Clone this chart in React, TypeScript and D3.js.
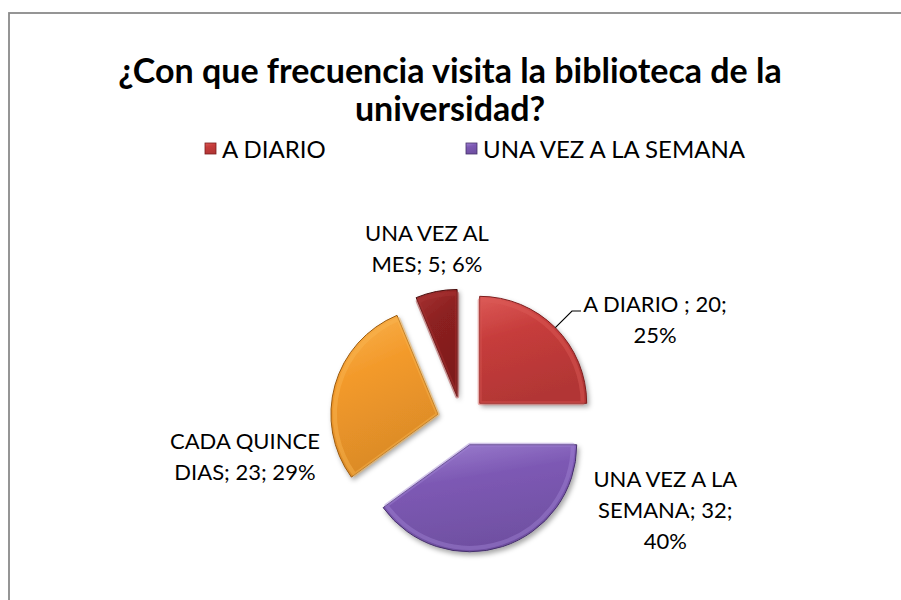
import * as d3 from "d3";
import { useEffect, useRef } from "react";

const width = 901,
  height = 600;

// data
const categories = ["A DIARIO ", "UNA VEZ A LA SEMANA", "CADA QUINCE DIAS", "UNA VEZ AL MES"];
const values = [20, 32, 23, 5];
const legendItems = ["A DIARIO", "UNA VEZ A LA SEMANA"];
const titleLines = ["¿Con que frecuencia visita la biblioteca de la", "universidad?"];

// styles / layout
const colors = [
  { base: "#c63c3b", light: "#dc5a57", dark: "#7c1c1c" },
  { base: "#7d59b4", light: "#a083d2", dark: "#45306a" },
  { base: "#f39a2b", light: "#f9b552", dark: "#9a5a10" },
  { base: "#8c2020", light: "#a83434", dark: "#4a0e0e" },
];
const cx = 462,
  cy = 421,
  radius = 107,
  explode = 25;
// label block placement: angle (deg, clockwise from top) and distance from pie centre
const labelPlace = [
  { angle: 62.3, dist: 218 },
  { angle: 113.7, dist: 222 },
  { angle: 260.6, dist: 220 },
  { angle: 348.5, dist: 176 },
];
const labelFont = 22,
  labelLineH = 31;

function wrap(text: string, max: number) {
  const words = text.split(" ");
  const lines: string[] = [];
  let cur = "";
  for (const w of words) {
    const next = cur ? cur + " " + w : w;
    if (next.length > max && cur) {
      lines.push(cur);
      cur = w;
    } else cur = next;
  }
  if (cur) lines.push(cur);
  return lines;
}

export default function App() {
  const ref = useRef<SVGSVGElement | null>(null);

  useEffect(() => {
    if (!ref.current) return;
    const svg = d3.select(ref.current);
    svg.selectAll("*").remove();

    const total = d3.sum(values);
    const pie = d3
      .pie<number>()
      .sort(null)
      .value((d) => d);
    const arcs = pie(values);
    const arc = d3.arc<d3.PieArcDatum<number>>().innerRadius(0).outerRadius(radius);

    const defs = svg.append("defs");
    colors.forEach((c, i) => {
      const g = defs
        .append("linearGradient")
        .attr("id", "grad" + i)
        .attr("x1", 0)
        .attr("y1", 0)
        .attr("x2", 0.3)
        .attr("y2", 1);
      g.append("stop").attr("offset", "0%").attr("stop-color", c.light);
      g.append("stop").attr("offset", "40%").attr("stop-color", c.base);
      g.append("stop").attr("offset", "100%").attr("stop-color", d3.color(c.base)!.darker(0.3).formatHex());
    });
    const f = defs
      .append("filter")
      .attr("id", "shadow")
      .attr("x", "-20%")
      .attr("y", "-20%")
      .attr("width", "150%")
      .attr("height", "150%");
    f.append("feDropShadow")
      .attr("dx", 2)
      .attr("dy", 3)
      .attr("stdDeviation", 2.5)
      .attr("flood-color", "#000")
      .attr("flood-opacity", 0.35);

    // chart border (right and bottom edges lie outside the picture)
    svg
      .append("rect")
      .attr("x", 9)
      .attr("y", 13)
      .attr("width", width + 100)
      .attr("height", height + 100)
      .attr("fill", "#fff")
      .attr("stroke", "#8a8a8a")
      .attr("stroke-width", 1.8);

    // title
    svg
      .append("g")
      .selectAll("text")
      .data(titleLines)
      .join("text")
      .attr("x", 450)
      .attr("y", (_, i) => 83 + i * 38)
      .attr("text-anchor", "middle")
      .attr("font-family", "Lato, sans-serif")
      .attr("font-weight", "bold")
      .attr("font-size", 34)
      .attr("fill", "#000")
      .text((d) => d);

    // legend
    const legend = svg
      .append("g")
      .selectAll("g")
      .data(legendItems)
      .join("g")
      .attr("transform", (_, i) => `translate(${205 + i * 261},143)`);
    legend
      .append("rect")
      .attr("width", 11)
      .attr("height", 11)
      .attr("fill", (d) => `url(#grad${categories.findIndex((c) => c.trim() === d)})`)
      .attr("stroke", (d) => colors[categories.findIndex((c) => c.trim() === d)].dark)
      .attr("stroke-width", 0.8);
    legend
      .append("text")
      .attr("x", 17)
      .attr("y", 15)
      .attr("font-family", "Lato, sans-serif")
      .attr("font-size", 24)
      .attr("fill", "#000")
      .text((d) => d);

    // slices
    const off = (d: d3.PieArcDatum<number>, r: number) => {
      const m = (d.startAngle + d.endAngle) / 2;
      return [Math.sin(m) * r, -Math.cos(m) * r];
    };
    const slices = svg
      .append("g")
      .attr("transform", `translate(${cx},${cy})`)
      .selectAll("g")
      .data(arcs)
      .join("g")
      .attr("transform", (d) => {
        const [x, y] = off(d, explode);
        return `translate(${x},${y})`;
      });
    slices
      .append("path")
      .attr("d", arc)
      .attr("fill", (_, i) => `url(#grad${i})`)
      .attr("stroke", (_, i) => colors[i].dark)
      .attr("stroke-width", 1)
      .attr("filter", "url(#shadow)");
    // bevel highlight
    slices
      .append("path")
      .attr("d", d3.arc<d3.PieArcDatum<number>>().innerRadius(0).outerRadius(radius - 4))
      .attr("fill", "none")
      .attr("stroke", (_, i) => colors[i].light)
      .attr("stroke-width", 4)
      .attr("stroke-opacity", 0.45)
      .attr("stroke-linejoin", "round");

    // data labels
    const labels = svg
      .append("g")
      .attr("font-family", "Lato, sans-serif")
      .attr("font-size", labelFont)
      .attr("fill", "#000");
    arcs.forEach((d, i) => {
      const pct = Math.round((values[i] / total) * 100);
      const lines = wrap(`${categories[i]}; ${values[i]}; ${pct}%`, 14);
      const p = labelPlace[i];
      const a = (p.angle * Math.PI) / 180;
      const lx = cx + Math.sin(a) * p.dist;
      const ly = cy - Math.cos(a) * p.dist;
      const top = ly - ((lines.length - 1) * labelLineH) / 2 + 8;
      labels
        .append("text")
        .attr("text-anchor", "middle")
        .selectAll("tspan")
        .data(lines)
        .join("tspan")
        .attr("x", lx)
        .attr("y", (_, j) => top + j * labelLineH)
        .text((t) => t);

      // leader line for the label placed away from its slice
      if (i === 0) {
        const [ox, oy] = off(d, explode);
        const [sx, sy] = off(d, radius);
        const [ex, ey] = off(d, radius * 1.22);
        const x0 = cx + ox + sx,
          y0 = cy + oy + sy;
        const x1 = cx + ox + ex,
          y1 = cy + oy + ey;
        svg
          .append("path")
          .attr("d", d3.line()([[x0, y0], [x1, y1], [x1 + 9, y1]]))
          .attr("fill", "none")
          .attr("stroke", "#000")
          .attr("stroke-width", 1.2);
      }
    });
  }, []);

  return (
    <svg
      ref={ref}
      width={width}
      height={height}
      style={{ position: "absolute", left: 0, top: 0, background: "#fff" }}
    />
  );
}
